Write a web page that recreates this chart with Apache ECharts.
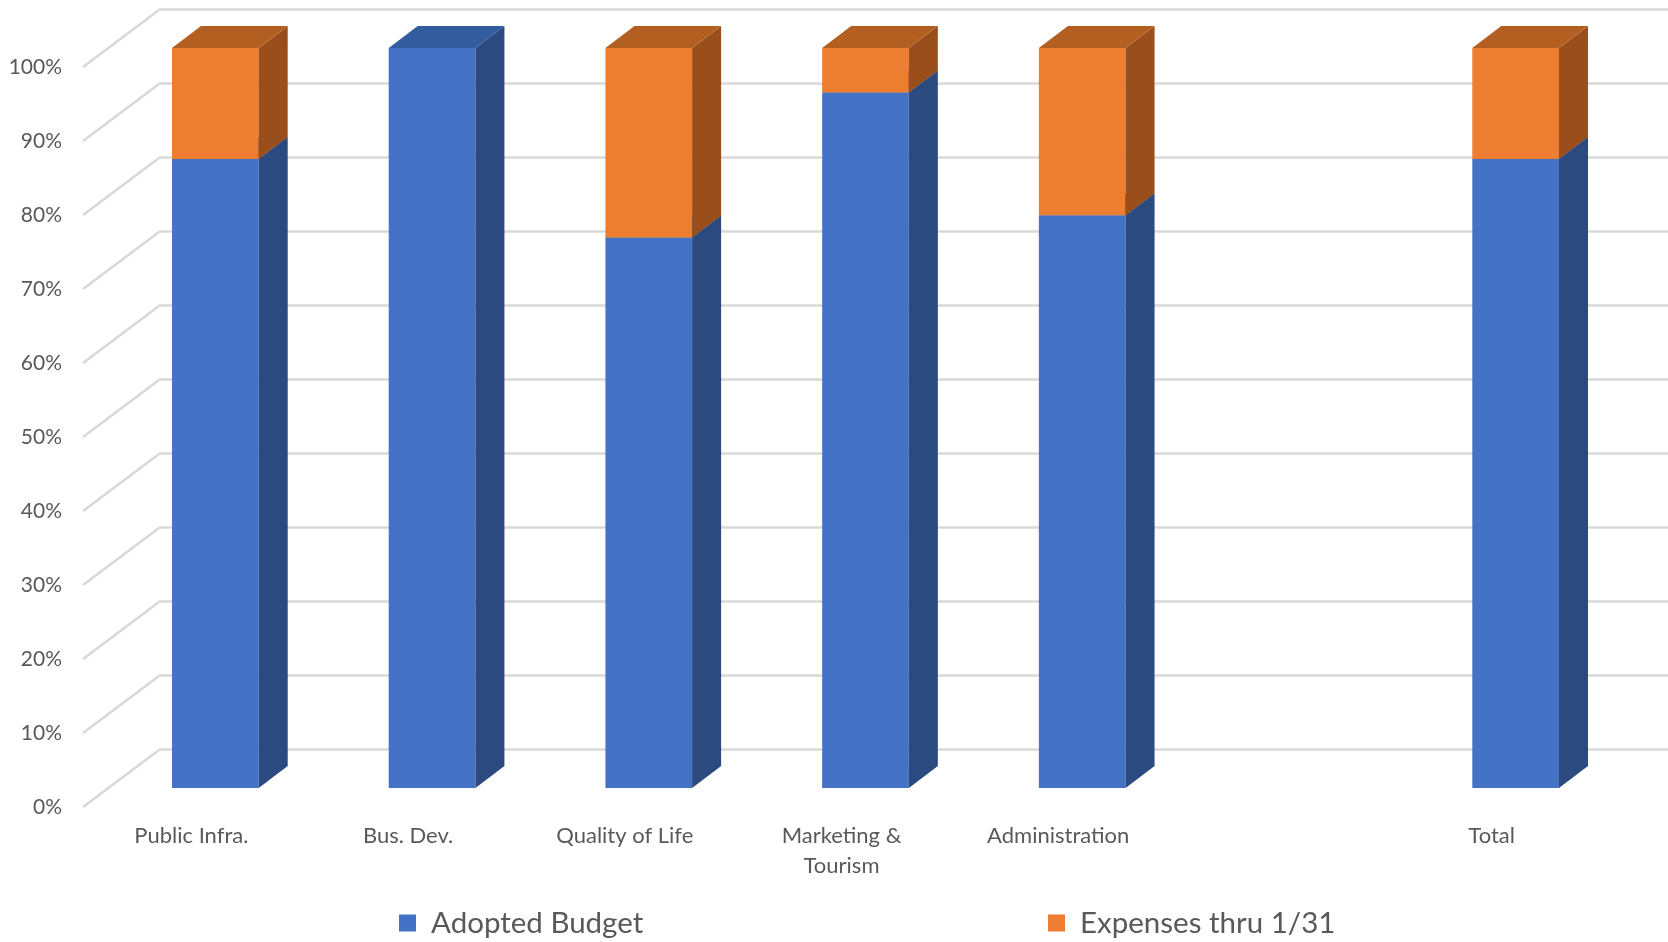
<!DOCTYPE html>
<html>
<head>
<meta charset="utf-8">
<script src="https://cdn.jsdelivr.net/npm/echarts@6/dist/echarts.min.js"></script>
<style>html,body{margin:0;padding:0;background:#fff}#c{width:1668px;height:942px}</style>
</head>
<body>
<div id="c"></div>
<script>
var categories = ['Public Infra.', 'Bus. Dev.', 'Quality of Life', 'Marketing &\nTourism', 'Administration', '', 'Total'];
var adoptedBudget = [85.0, 100, 74.4, 94.0, 77.4, null, 85.0];
var expenses = [15.0, 0, 25.6, 6.0, 22.6, null, 15.0];
var yTicks = [0, 10, 20, 30, 40, 50, 60, 70, 80, 90, 100];

var FONT = 'Lato';
var DX = 29, DY = -22;

function buildData(vals, bases) {
  var out = [];
  for (var i = 0; i < vals.length; i++) {
    if (vals[i] == null || vals[i] === 0) continue;
    var b = bases ? bases[i] : 0;
    out.push([i, b, b + vals[i]]);
  }
  return out;
}

function barRender(colors) {
  return function (params, api) {
    var c = api.value(0), v0 = api.value(1), v1 = api.value(2);
    var pb = api.coord([c, v0]);
    var pt = api.coord([c, v1]);
    var w = api.size([1, 0])[0] * 0.4;
    var x0 = pb[0] - w / 2, x1 = pb[0] + w / 2;
    var yb = pb[1], yt = pt[1];
    return {
      type: 'group',
      children: [
        { type: 'polygon', shape: { points: [[x0, yb], [x1, yb], [x1, yt], [x0, yt]] }, style: { fill: colors[0] } },
        { type: 'polygon', shape: { points: [[x1, yb], [x1 + DX, yb + DY], [x1 + DX, yt + DY], [x1, yt]] }, style: { fill: colors[1] } },
        { type: 'polygon', shape: { points: [[x0, yt], [x1, yt], [x1 + DX, yt + DY], [x0 + DX, yt + DY]] }, style: { fill: colors[2] } }
      ]
    };
  };
}

var chart = echarts.init(document.getElementById('c'), null, { renderer: 'canvas' });
chart.setOption({
  backgroundColor: '#fff',
  animation: false,
  textStyle: { fontFamily: FONT },
  grid: [
    { left: 107, right: 44, top: 48, bottom: 154 },
    { left: 83, right: 68, top: 67, bottom: 135 },
    { left: 159, right: 0, top: 9, bottom: 193 }
  ],
  xAxis: [
    { type: 'category', gridIndex: 0, data: categories, show: false },
    { type: 'category', gridIndex: 1, data: categories,
      axisLine: { show: false }, axisTick: { show: false },
      axisLabel: { interval: 0, margin: 14, color: '#595959', fontSize: 22, fontFamily: FONT, lineHeight: 30 } },
    { type: 'value', gridIndex: 2, show: false, min: 0, max: 1 }
  ],
  yAxis: [
    { type: 'value', gridIndex: 0, min: 0, max: 100, interval: 10, show: false },
    { type: 'value', gridIndex: 1, min: 0, max: 100, interval: 10,
      axisLine: { show: false }, axisTick: { show: false }, splitLine: { show: false },
      axisLabel: { margin: 21, color: '#595959', fontSize: 21, fontFamily: FONT, formatter: '{value}%' } },
    { type: 'value', gridIndex: 2, min: 0, max: 100, interval: 10,
      axisLine: { show: false }, axisTick: { show: false }, axisLabel: { show: false },
      splitLine: { show: true, lineStyle: { color: '#d9d9d9', width: 2.5 } } }
  ],
  legend: [
    { data: ['Adopted Budget'], left: 399, top: 908, padding: 0, icon: 'rect', itemWidth: 17, itemHeight: 17,
      textStyle: { color: '#595959', fontSize: 29.5, fontFamily: FONT, padding: [0, 0, 0, 10] } },
    { data: ['Expenses thru 1/31'], left: 1048, top: 908, padding: 0, icon: 'rect', itemWidth: 17, itemHeight: 17,
      textStyle: { color: '#595959', fontSize: 29.5, fontFamily: FONT, padding: [0, 0, 0, 10] } }
  ],
  series: [
    {
      type: 'custom', name: 'wall', xAxisIndex: 1, yAxisIndex: 1, silent: true,
      data: yTicks.map(function (t) { return [0, t]; }),
      renderItem: function (params, api) {
        var y = api.coord([0, api.value(1)])[1];
        var x = params.coordSys.x;
        return { type: 'line', shape: { x1: x, y1: y, x2: x + 76, y2: y - 57 },
          style: { stroke: '#d9d9d9', lineWidth: 2.5 } };
      },
      z: 1
    },
    {
      type: 'custom', name: 'Adopted Budget', xAxisIndex: 0, yAxisIndex: 0,
      itemStyle: { color: '#4472C4' },
      data: buildData(adoptedBudget, null),
      encode: { x: 0, y: [1, 2] },
      renderItem: barRender(['#4472C4', '#2B4A80', '#335C9E']),
      z: 3
    },
    {
      type: 'custom', name: 'Expenses thru 1/31', xAxisIndex: 0, yAxisIndex: 0,
      itemStyle: { color: '#ED7D31' },
      data: buildData(expenses, adoptedBudget),
      encode: { x: 0, y: [1, 2] },
      renderItem: barRender(['#ED7D31', '#9A4E1C', '#B45F22']),
      z: 4
    }
  ]
});
</script>
</body>
</html>
